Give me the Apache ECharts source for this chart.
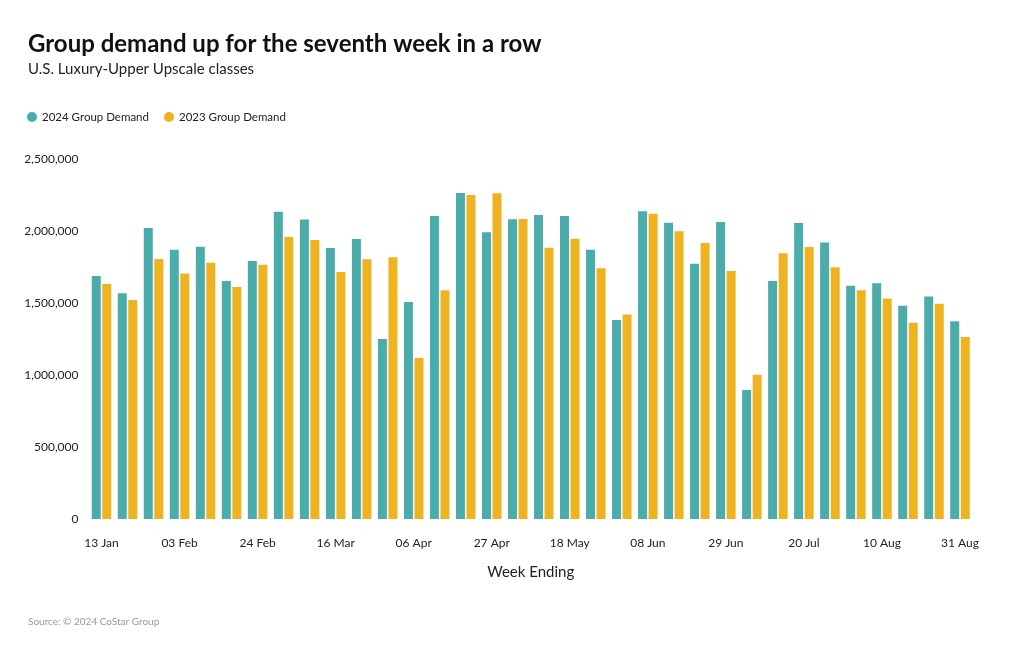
<!DOCTYPE html>
<html>
<head>
<meta charset="utf-8">
<script src="https://cdn.jsdelivr.net/npm/echarts@6/dist/echarts.min.js"></script>
<style>
html,body{margin:0;padding:0;background:#fff;}
#chart{width:1020px;height:650px;}
</style>
</head>
<body>
<div id="chart"></div>
<script>
const weeks = ["13 Jan","20 Jan","27 Jan","03 Feb","10 Feb","17 Feb","24 Feb","02 Mar","09 Mar","16 Mar","23 Mar","30 Mar","06 Apr","13 Apr","20 Apr","27 Apr","04 May","11 May","18 May","25 May","01 Jun","08 Jun","15 Jun","22 Jun","29 Jun","06 Jul","13 Jul","20 Jul","27 Jul","03 Aug","10 Aug","17 Aug","24 Aug","31 Aug"];
const demand2024 = [1687000,1567000,2021000,1870000,1891000,1653000,1792000,2134000,2079000,1882000,1944000,1250000,1507000,2104000,2264000,1991000,2081000,2111000,2104000,1870000,1382000,2137000,2058000,1773000,2062000,896000,1653000,2056000,1921000,1620000,1637000,1481000,1546000,1373000];
const demand2023 = [1632000,1521000,1806000,1704000,1780000,1611000,1766000,1958000,1938000,1715000,1803000,1817000,1118000,1588000,2250000,2262000,2083000,1884000,1947000,1741000,1421000,2120000,1998000,1917000,1722000,1002000,1845000,1889000,1748000,1588000,1532000,1363000,1495000,1264000];
const yTicks = {min: 0, max: 2500000, interval: 500000};

const FONT = "Lato, 'Noto Sans', sans-serif";
const chart = echarts.init(document.getElementById('chart'), null, {renderer: 'canvas'});
chart.setOption({
  backgroundColor: '#fff',
  animation: false,
  textStyle: {fontFamily: FONT},
  title: [
    {text: 'Group demand up for the seventh week in a row', left: 23, top: 27,
     textStyle: {fontFamily: FONT, fontSize: 24, fontWeight: 'bold', color: '#111'}},
    {text: 'U.S. Luxury-Upper Upscale classes', left: 23, top: 57,
     textStyle: {fontFamily: FONT, fontSize: 15, fontWeight: 'normal', color: '#222'}},
    {text: 'Source: © 2024 CoStar Group', left: 23, top: 612,
     textStyle: {fontFamily: FONT, fontSize: 10, fontWeight: 'normal', color: '#999'}}
  ],
  legend: {
    left: 22, top: 106, icon: 'circle', itemWidth: 10, itemHeight: 10, itemGap: 15,
    textStyle: {fontFamily: FONT, fontSize: 11.5, color: '#222'},
    data: ['2024 Group Demand', '2023 Group Demand']
  },
  grid: {left: 88.5, right: 47, top: 159, bottom: 131, containLabel: false},
  xAxis: {
    type: 'category', data: weeks,
    axisLine: {show: false}, axisTick: {show: false},
    axisLabel: {interval: 2, margin: 18, fontSize: 12, color: '#222', fontFamily: FONT},
    name: 'Week Ending', nameLocation: 'middle', nameGap: 46,
    nameTextStyle: {fontSize: 15, color: '#222', fontFamily: FONT}
  },
  yAxis: {
    type: 'value', min: yTicks.min, max: yTicks.max, interval: yTicks.interval,
    splitLine: {show: false}, axisLine: {show: false}, axisTick: {show: false},
    axisLabel: {margin: 10, fontSize: 12, color: '#222', fontFamily: FONT,
      formatter: v => v.toLocaleString('en-US')}
  },
  series: [
    {name: '2024 Group Demand', type: 'bar', data: demand2024, barWidth: 9, barGap: '17%',
     itemStyle: {color: '#4aadab'}},
    {name: '2023 Group Demand', type: 'bar', data: demand2023, barWidth: 9,
     itemStyle: {color: '#efb322'}}
  ]
});
</script>
</body>
</html>
